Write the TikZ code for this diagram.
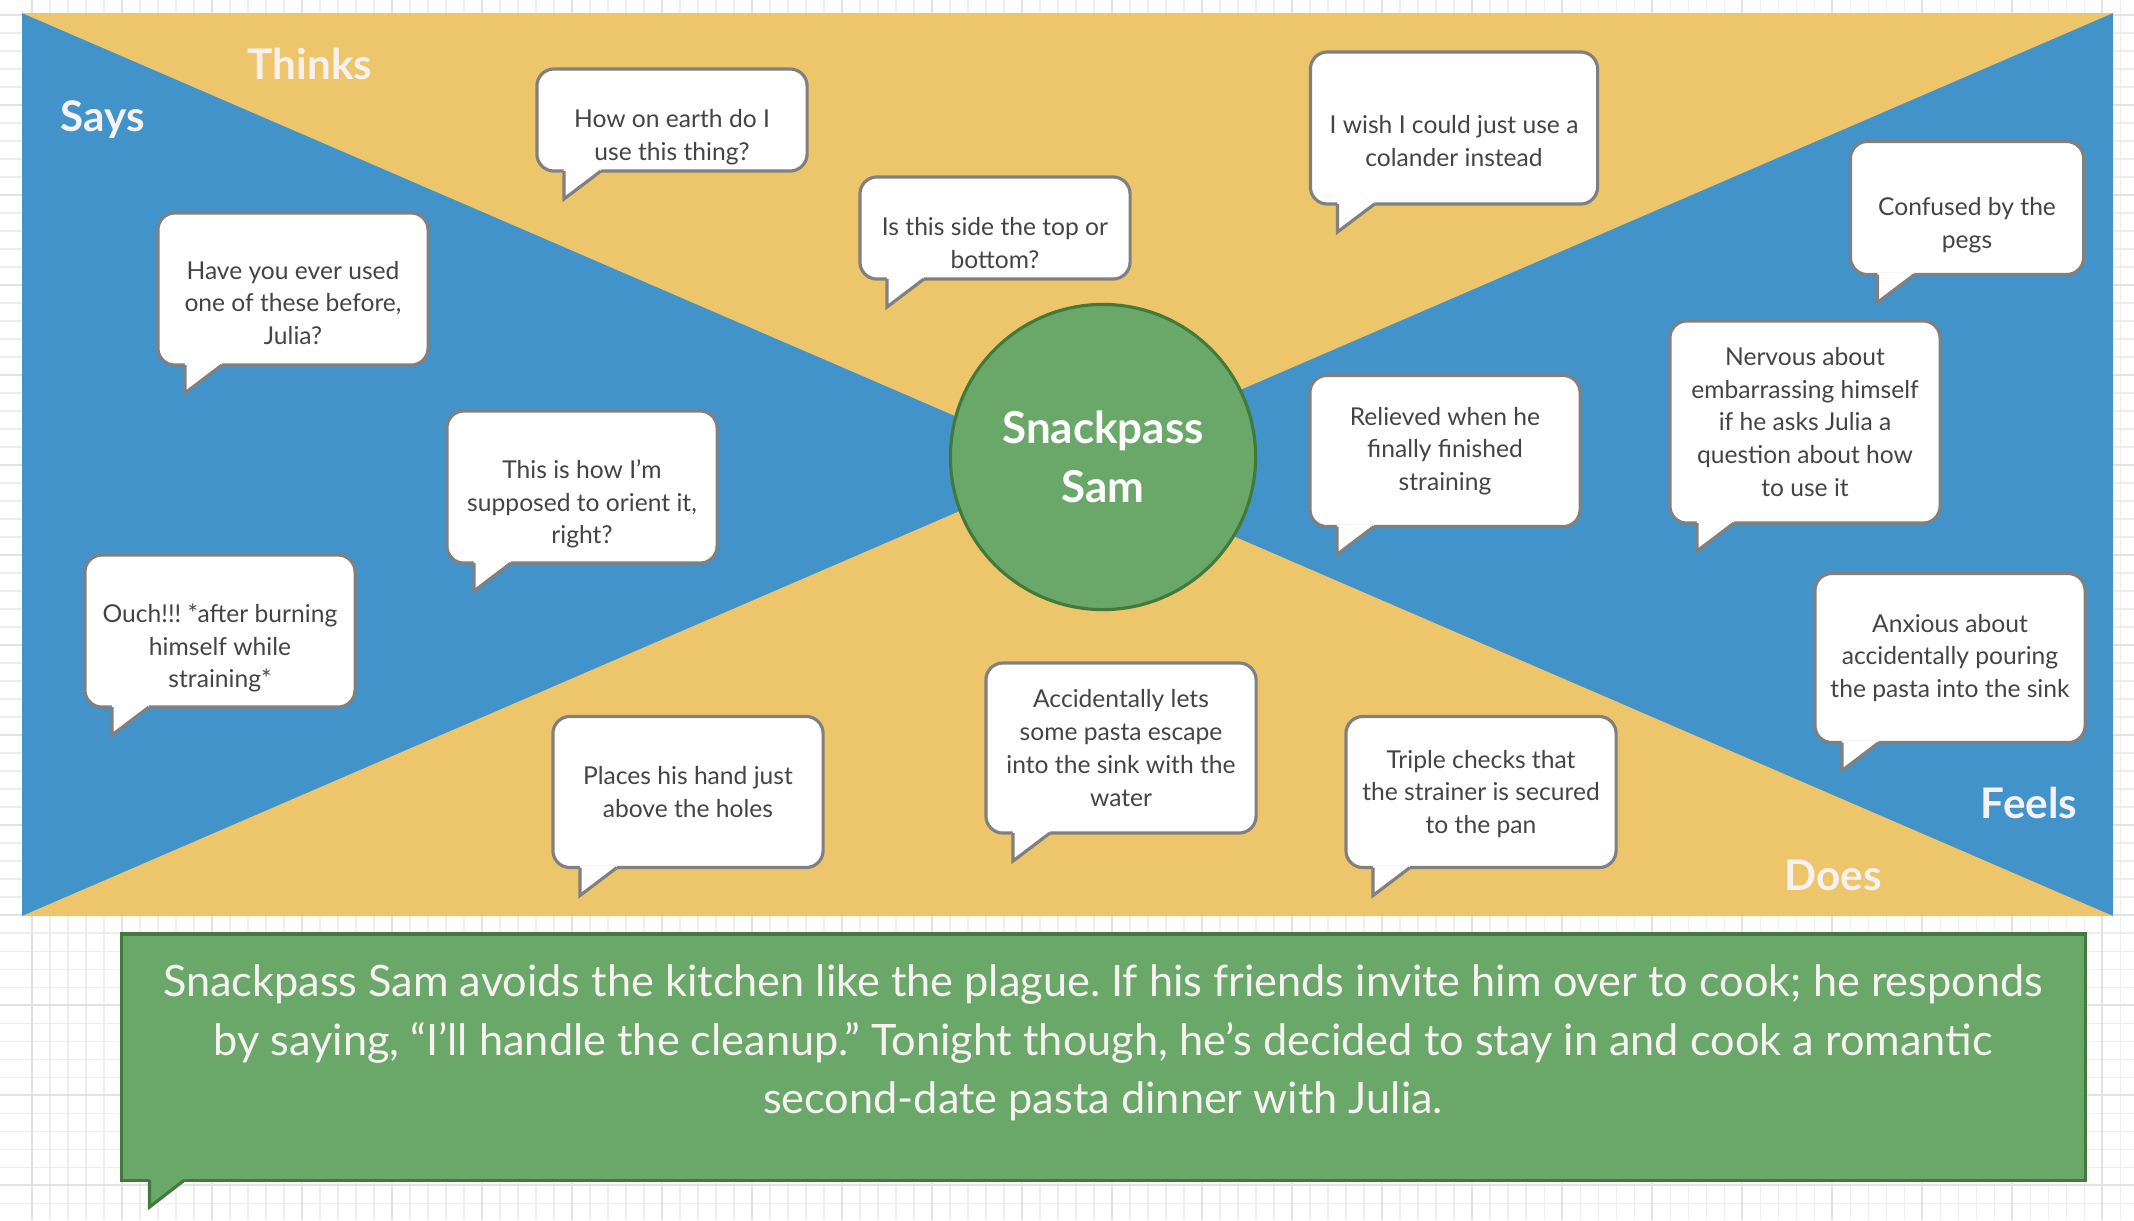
\documentclass[tikz,border=0pt]{standalone}
\usepackage{fontspec}
\setmainfont{Lato}
\usetikzlibrary{calc}
\frenchspacing

\definecolor{saysblue}{RGB}{65,147,201}
\definecolor{thinkyellow}{RGB}{237,197,106}
\definecolor{samgreen}{RGB}{106,168,106}
\definecolor{samdark}{RGB}{65,122,58}
\definecolor{bubgray}{RGB}{128,128,128}
\definecolor{bubink}{RGB}{68,68,68}
\definecolor{headink}{RGB}{247,241,241}
\definecolor{gridgray}{RGB}{226,226,226}

\begin{document}
\begin{tikzpicture}[
    x=0.01cm, y=-0.01cm,
    gridminor/.style={draw=gridgray!60, line width=0.3pt},
    gridmajor/.style={draw=gridgray, line width=0.6pt},
    heading/.style={text=headink, font=\fontsize{12}{14}\selectfont\bfseries, inner sep=0pt},
    bubble/.style={draw=bubgray, fill=white, line width=0.9pt, rounded corners=0.17cm,
                   minimum width=2.7cm, inner sep=0pt, outer sep=0pt},
    bubtext/.style={align=center, text=bubink, font=\fontsize{7}{9.3}\selectfont\frenchspacing, inner sep=0pt},
    tail/.style={draw=bubgray, line width=0.9pt, line join=miter},
    persona/.style={circle, draw=samdark, fill=samgreen, line width=0.9pt,
                    minimum size=3.05cm, inner sep=0pt, align=center, text=white,
                    font=\fontsize{12.5}{16.6}\selectfont\bfseries},
    story/.style={draw=samdark, fill=samgreen, line width=0.9pt, inner sep=0pt, outer sep=0pt,
                  minimum width=19.63cm, minimum height=2.46cm},
]
\useasboundingbox (0,0) rectangle (2134,1220);
\fill[white] (0,0) rectangle (2134,1220);

% Grid paper
\foreach \gx in {32,50,...,2134} \draw[gridminor] (\gx,0) -- (\gx,1220);
\foreach \gy in {15,33,...,1220} \draw[gridminor] (0,\gy) -- (2134,\gy);
\foreach \gx in {32,122,...,2134} \draw[gridmajor] (\gx,0) -- (\gx,1220);
\foreach \gy in {15,105,...,1220} \draw[gridmajor] (0,\gy) -- (2134,\gy);

% Quadrants
\coordinate (tl) at (22,13);
\coordinate (tr) at (2113,13);
\coordinate (br) at (2113,916);
\coordinate (bl) at (22,916);
\coordinate (mid) at ($(tl)!0.5!(br)$);
\fill[saysblue] (tl) rectangle (br);
\fill[thinkyellow] (tl) -- (tr) -- (mid) -- cycle;
\fill[thinkyellow] (bl) -- (br) -- (mid) -- cycle;

\node[heading] (hthinks) at (310,64) {Thinks};
\node[heading] (hsays) at (103,120) {Says};
\node[heading] (hfeels) at (2029,803) {Feels};
\node[heading] (hdoes) at (1833,875) {Does};

% Persona
\node[persona] (sam) at (1103,457) {Snackpass\\Sam};

% Thinks
\node[bubble, minimum height=1.02cm] (th1) at (672,120) {};
\node[bubtext] (th1t) at ([yshift=-0.17cm]th1.center) {How on earth do I\\use this thing?};
\node[bubble, minimum height=1.02cm] (th2) at (995,228) {};
\node[bubtext] (th2t) at ([yshift=-0.15cm]th2.center) {Is this side the top or\\bottom?};
\node[bubble, minimum width=2.87cm, minimum height=1.52cm] (th3) at (1454,128) {};
\node[bubtext] (th3t) at ([yshift=-0.13cm]th3.center) {I wish I could just use a\\colander instead};

% Says
\node[bubble, minimum height=1.52cm] (sa1) at (293,289) {};
\node[bubtext] (sa1t) at ([yshift=-0.14cm]sa1.center) {Have you ever used\\one of these before,\\Julia?};
\node[bubble, minimum height=1.52cm] (sa2) at (582,487) {};
\node[bubtext] (sa2t) at ([yshift=-0.17cm]sa2.center) {This is how I'm\\supposed to orient it,\\right?};
\node[bubble, minimum height=1.52cm] (sa3) at (220,631) {};
\node[bubtext] (sa3t) at ([yshift=-0.17cm]sa3.center) {Ouch!!! *after burning\\himself while\\straining*};

% Feels
\node[bubble, minimum width=2.33cm, minimum height=1.33cm] (fe1) at (1967,208) {};
\node[bubtext] (fe1t) at ([yshift=-0.17cm]fe1.center) {Confused by the\\pegs};
\node[bubble, minimum height=1.51cm] (fe2) at (1445,451) {};
\node[bubtext] (fe2t) at (fe2.center) {Relieved when he\\finally finished\\straining};
\node[bubble, minimum height=2.02cm] (fe3) at (1805,422) {};
\node[bubtext] (fe3t) at (fe3.center) {Nervous about\\embarrassing himself\\if he asks Julia a\\question about how\\to use it};
\node[bubble, minimum height=1.69cm] (fe4) at (1950,658) {};
\node[bubtext] (fe4t) at (fe4.center) {Anxious about\\accidentally pouring\\the pasta into the sink};

% Does
\node[bubble, minimum height=1.51cm] (do1) at (688,792) {};
\node[bubtext] (do1t) at (do1.center) {Places his hand just\\above the holes};
\node[bubble, minimum height=1.70cm] (do2) at (1121,748) {};
\node[bubtext] (do2t) at (do2.center) {Accidentally lets\\some pasta escape\\into the sink with the\\water};
\node[bubble, minimum height=1.51cm] (do3) at (1481,792) {};
\node[bubtext] (do3t) at ([yshift=-0.02cm]do3.center) {Triple checks that\\the strainer is secured\\to the pan};

% Speech tails
\foreach \b in {th1,th2,th3,sa1,sa2,sa3,fe1,fe2,fe3,fe4,do1,do2,do3} {
  \fill[white] ($(\b.south west)+(27,-2)$) -- ($(\b.south west)+(27,28)$)
      -- ($(\b.south west)+(64,0)$) -- ($(\b.south west)+(64,-2)$) -- cycle;
  \draw[tail] ($(\b.south west)+(27,0)$) -- ($(\b.south west)+(27,28)$)
      -- ($(\b.south west)+(64,0)$);
}

% Story
\node[story] (sto) at (1103.5,1057) {};
\fill[samgreen] ($(sto.south west)+(28,-2)$) -- ($(sto.south west)+(28,27)$)
    -- ($(sto.south west)+(63,0)$) -- ($(sto.south west)+(63,-2)$) -- cycle;
\draw[tail, draw=samdark] ($(sto.south west)+(28,0)$) -- ($(sto.south west)+(28,27)$)
    -- ($(sto.south west)+(63,0)$);
\node[align=center, text=headink, font=\fontsize{12.3}{16.6}\selectfont\frenchspacing, inner sep=0pt] (stot)
    at (1103,1043) {Snackpass Sam avoids the kitchen like the plague. If his friends invite him over to cook; he responds\\
    by saying, “I’ll handle the cleanup.” Tonight though, he’s decided to stay in and cook a romantic\\
    second-date pasta dinner with Julia.};
\end{tikzpicture}
\end{document}
